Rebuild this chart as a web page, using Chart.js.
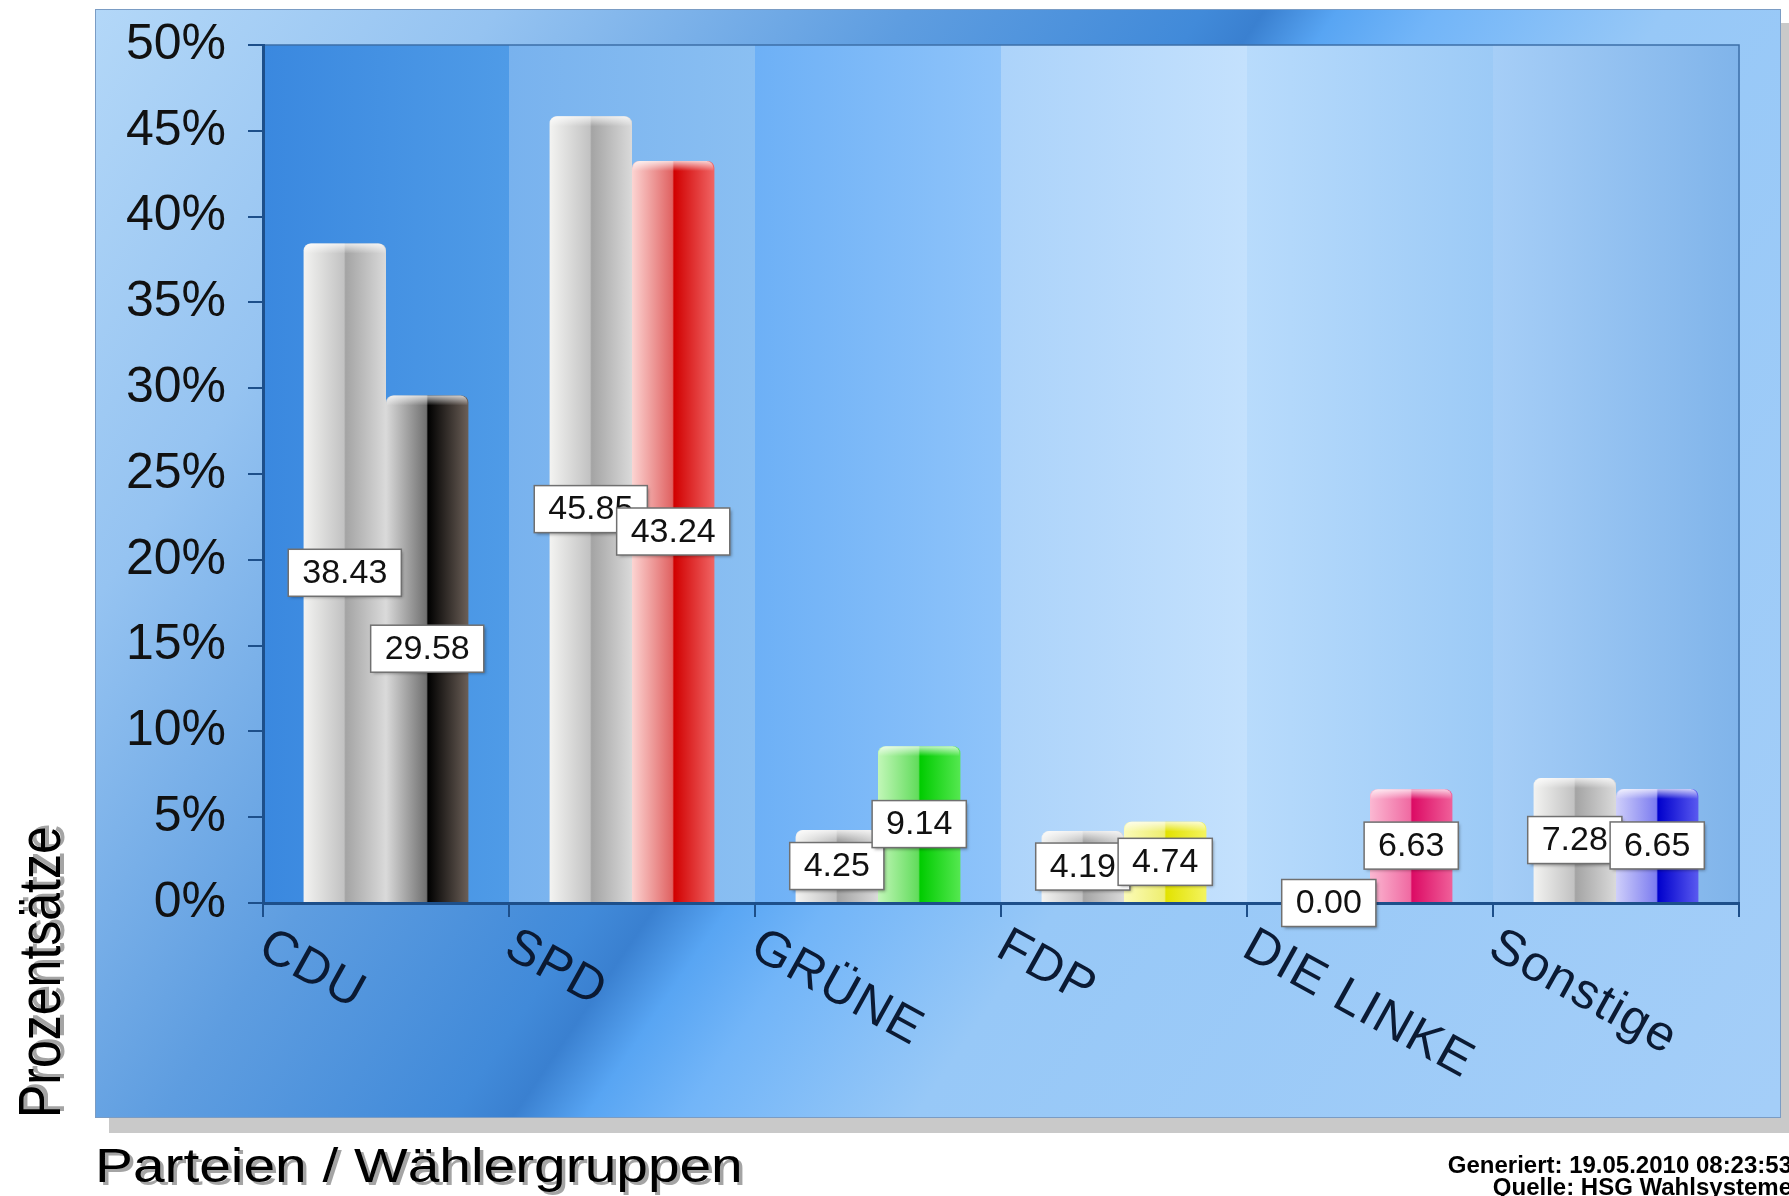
<!DOCTYPE html>
<html>
<head>
<meta charset="utf-8">
<script src="https://cdn.jsdelivr.net/npm/chart.js@4.4.1/dist/chart.umd.min.js"></script>
<style>
  html, body { margin: 0; padding: 0; background: #fff; overflow: hidden; }
  #wrap { width: 1789px; height: 1196px; position: relative; }
</style>
</head>
<body>
<div id="wrap"><canvas id="myChart"></canvas></div>
<script>
// Ergebnisse in Prozent
const parties = ['CDU', 'SPD', 'GRÜNE', 'FDP', 'DIE LINKE', 'Sonstige']
const previousVote = [38.43, 45.85, 4.25, 4.19, 0.00, 7.28]
const currentVote = [29.58, 43.24, 9.14, 4.74, 6.63, 6.65]
const yTickValues = [0, 5, 10, 15, 20, 25, 30, 35, 40, 45, 50]

// Zylinder-Farben: hell links, Kante in der Mitte, satt rechts
const greyStops = ['#f3f3f1', '#c2c2c2', '#a4a4a4', '#dadada']
const partyStops = [
    ['#dadada', '#707070', '#000000', '#6b5f57'],
    ['#fcd4d2', '#e06262', '#d10000', '#f06565'],
    ['#c2f7b8', '#62dc5c', '#00cc00', '#55e850'],
    ['#fbfbb8', '#eeee70', '#e2e200', '#f4f460'],
    ['#fbb8d2', '#f06aa2', '#dc0a64', '#f0609a'],
    ['#cfcffa', '#7c7cf0', '#0000cc', '#5a5af0']
]
// Hintergrundstreifen je Partei
const bandColors = [
    ['#3a88df', '#4f9be7'],
    ['#78b2ee', '#8abff2'],
    ['#6db0f6', '#8fc4fa'],
    ['#acd3fa', '#c4e1fd'],
    ['#b8dbfc', '#9ccaf6'],
    ['#a6cef7', '#80b4ea']
]

const axisColor = '#1d4f8a'

const decor = {
    id: 'decor',
    beforeDraw(chart) {
        const ctx = chart.ctx
        const W = chart.width, H = chart.height
        ctx.save()
        ctx.fillStyle = '#ffffff'
        ctx.fillRect(0, 0, W, H)

        // Schatten des Rahmens
        ctx.fillStyle = '#c9c9c9'
        ctx.fillRect(109, 23, 1680, 1110)

        // äußerer Rahmen mit diagonalem Verlauf
        const px = 95, py = 9, pw = 1686, ph = 1109
        const g = ctx.createLinearGradient(84, 9, 84 + 2015 * 0.827, 9 + 2015 * 0.562)
        g.addColorStop(0, '#b4d8f8')
        g.addColorStop(0.17, '#95c3f1')
        g.addColorStop(0.34, '#5e9de0')
        g.addColorStop(0.46, '#418ad9')
        g.addColorStop(0.485, '#3a80d0')
        g.addColorStop(0.515, '#58a5f3')
        g.addColorStop(0.555, '#72b5f8')
        g.addColorStop(0.65, '#97c8f7')
        g.addColorStop(1, '#a4cef8')
        ctx.fillStyle = g
        ctx.fillRect(px, py, pw, ph)
        ctx.strokeStyle = '#7a9cc4'
        ctx.lineWidth = 1
        ctx.strokeRect(px + 0.5, py + 0.5, pw - 1, ph - 1)

        // Streifen im Diagrammbereich
        const xs = chart.scales.x
        const area = chart.chartArea
        parties.forEach((p, i) => {
            const x0 = xs.getPixelForValue(i - 0.5)
            const x1 = xs.getPixelForValue(i + 0.5)
            const bg = ctx.createLinearGradient(x0, 0, x1, 0)
            bg.addColorStop(0, bandColors[i][0])
            bg.addColorStop(1, bandColors[i][1])
            ctx.fillStyle = bg
            ctx.fillRect(x0, area.top, x1 - x0 + 0.5, area.bottom - area.top)
        })
        ctx.strokeStyle = '#3d6fa8'
        ctx.lineWidth = 1.5
        ctx.beginPath()
        ctx.moveTo(area.left, area.top)
        ctx.lineTo(area.right, area.top)
        ctx.lineTo(area.right, area.bottom)
        ctx.stroke()
        ctx.restore()
    },
    beforeDatasetsDraw(chart) {
        const ctx = chart.ctx
        chart.data.datasets.forEach((ds, di) => {
            chart.getDatasetMeta(di).data.forEach((bar, i) => {
                const stops = di === 0 ? greyStops : partyStops[i]
                const left = bar.x - bar.width / 2
                const g = ctx.createLinearGradient(left, 0, left + bar.width, 0)
                g.addColorStop(0, stops[0])
                g.addColorStop(0.49, stops[1])
                g.addColorStop(0.51, stops[2])
                g.addColorStop(1, stops[3])
                bar.options.backgroundColor = g
            })
        })
    },
    afterDatasetsDraw(chart) {
        const ctx = chart.ctx
        ctx.save()
        // Glanzkappe oben
        chart.data.datasets.forEach((ds, di) => {
            chart.getDatasetMeta(di).data.forEach((bar, i) => {
                if (ds.data[i] <= 0) return
                const left = bar.x - bar.width / 2
                const cg = ctx.createLinearGradient(0, bar.y, 0, bar.y + 10)
                cg.addColorStop(0, 'rgba(255,255,255,0.75)')
                cg.addColorStop(1, 'rgba(255,255,255,0)')
                ctx.fillStyle = cg
                ctx.beginPath()
                ctx.roundRect(left + 1, bar.y, bar.width - 2, 10, [7, 7, 0, 0])
                ctx.fill()
            })
        })
        // Wertebeschriftung
        ctx.font = '34px "Liberation Sans", Arial, sans-serif'
        ctx.textAlign = 'center'
        ctx.textBaseline = 'middle'
        parties.forEach((p, i) => {
            chart.data.datasets.forEach((ds, di) => {
                const bar = chart.getDatasetMeta(di).data[i]
                const txt = ds.data[i].toFixed(2)
                const cx = bar.x
                const cy = (bar.y + bar.base) / 2
                const w = ctx.measureText(txt).width + 28
                const h = 47
                ctx.save()
                ctx.shadowColor = 'rgba(0,0,0,0.35)'
                ctx.shadowOffsetX = 2
                ctx.shadowOffsetY = 2
                ctx.shadowBlur = 3
                ctx.fillStyle = '#ffffff'
                ctx.fillRect(cx - w / 2, cy - h / 2, w, h)
                ctx.restore()
                ctx.strokeStyle = '#707070'
                ctx.lineWidth = 1.5
                ctx.strokeRect(cx - w / 2, cy - h / 2, w, h)
                ctx.fillStyle = '#111111'
                ctx.fillText(txt, cx, cy + 1)
            })
        })
        ctx.restore()
    },
    afterDraw(chart) {
        const ctx = chart.ctx
        const xs = chart.scales.x
        const area = chart.chartArea
        ctx.save()
        // schräge Parteinamen
        ctx.font = '50px "Liberation Sans", Arial, sans-serif'
        ctx.letterSpacing = '1.5px'
        ctx.fillStyle = '#0b1a33'
        ctx.textAlign = 'left'
        ctx.textBaseline = 'alphabetic'
        parties.forEach((p, i) => {
            const x0 = xs.getPixelForValue(i - 0.5)
            ctx.save()
            ctx.translate(x0 - 7, area.bottom + 52)
            ctx.rotate(29 * Math.PI / 180)
            ctx.fillText(p, 0, 0)
            ctx.restore()
        })
        ctx.letterSpacing = '0px'

        // Achsentitel
        const drawShadowed = (txt, x, y) => {
            ctx.fillStyle = 'rgba(90,90,90,0.55)'
            ctx.fillText(txt, x + 3, y + 3)
            ctx.fillStyle = '#000000'
            ctx.fillText(txt, x, y)
        }
        ctx.font = '49px "Liberation Sans", Arial, sans-serif'
        ctx.save()
        ctx.translate(95, 1182)
        ctx.scale(1.16, 1)
        drawShadowed('Parteien / Wählergruppen', 0, 0)
        ctx.restore()

        ctx.font = '50px "Liberation Sans", Arial, sans-serif'
        ctx.save()
        ctx.translate(60, 1118)
        ctx.scale(1.18, 1)
        ctx.rotate(-Math.PI / 2)
        drawShadowed('Prozentsätze', 0, 0)
        ctx.restore()

        // Fußzeile
        ctx.font = 'bold 24px "Liberation Sans Narrow", "Arial Narrow", sans-serif'
        ctx.textAlign = 'right'
        ctx.fillStyle = '#000000'
        ctx.fillText('Generiert: 19.05.2010 08:23:53', 1792, 1173)
        ctx.fillText('Quelle: HSG Wahlsysteme', 1792, 1195)
        ctx.restore()
    }
}

const chart = new Chart(document.getElementById('myChart'), {
    type: 'bar',
    data: {
        labels: parties,
        datasets: [{
            label: 'Vorwahl',
            data: previousVote,
            backgroundColor: () => '#b0b0b0',
            borderRadius: { topLeft: 7, topRight: 7, bottomLeft: 0, bottomRight: 0 },
            borderSkipped: 'start'
        }, {
            label: 'Wahl',
            data: currentVote,
            backgroundColor: (c) => partyStops[c.dataIndex % partyStops.length][2],
            borderRadius: { topLeft: 7, topRight: 7, bottomLeft: 0, bottomRight: 0 },
            borderSkipped: 'start'
        }]
    },
    options: {
        responsive: true,
        maintainAspectRatio: false,
        devicePixelRatio: 1,
        animation: false,
        layout: { padding: { top: 45, right: 50, left: 0, bottom: 0 } },
        datasets: { bar: { barPercentage: 1.0, categoryPercentage: 0.67 } },
        plugins: {
            legend: { display: false },
            tooltip: { enabled: false }
        },
        scales: {
            x: {
                offset: true,
                grid: { display: true, offset: true, drawOnChartArea: false, drawTicks: true, tickLength: 14, color: axisColor, lineWidth: 2 },
                border: { display: true, color: axisColor, width: 3 },
                ticks: { display: false },
                afterFit: (s) => { s.height = 293 }
            },
            y: {
                min: 0,
                max: 50,
                afterBuildTicks: (s) => { s.ticks = yTickValues.map(v => ({ value: v })) },
                ticks: {
                    callback: (v) => v + '%',
                    color: '#111111',
                    padding: 22,
                    font: { family: '"Liberation Sans", Arial, sans-serif', size: 50 }
                },
                grid: { drawOnChartArea: false, drawTicks: true, tickLength: 15, color: axisColor, lineWidth: 2 },
                border: { display: true, color: axisColor, width: 3 },
                afterFit: (s) => {
                    s.width = 263
                    s.paddingTop = 0
                    s.paddingBottom = 0
                }
            }
        }
    },
    plugins: [decor]
})
</script>
</body>
</html>
